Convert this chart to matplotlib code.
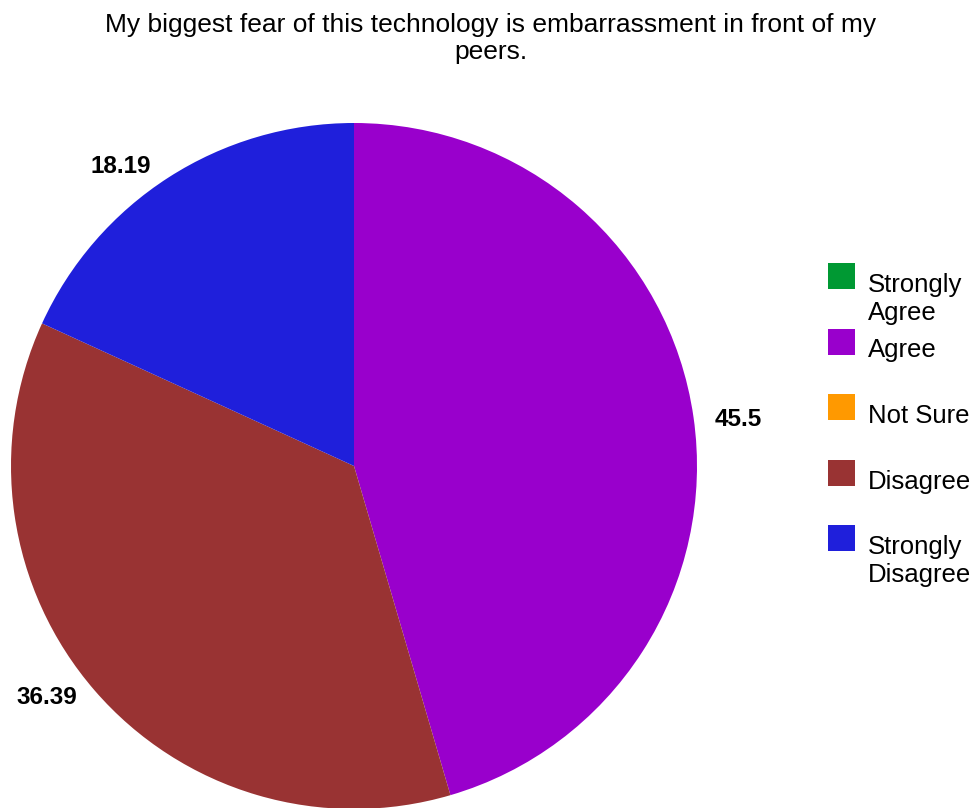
import matplotlib
matplotlib.use('Agg')
import matplotlib.pyplot as plt
from matplotlib.patches import Rectangle

plt.rcParams['font.family'] = ['Liberation Sans', 'DejaVu Sans']

# Survey responses (percent)
categories = ['Strongly\nAgree', 'Agree', 'Not Sure', 'Disagree', 'Strongly\nDisagree']
values = [0, 45.5, 0, 36.39, 18.19]
value_labels = ['', '45.5', '', '36.39', '18.19']
colors = ['#009933', '#9900CC', '#FF9900', '#993333', '#1F1FDB']
title = 'My biggest fear of this technology is embarrassment in front of my\npeers.'

W, H = 979, 808
fig = plt.figure(figsize=(W / 100, H / 100), dpi=100)

fig.text(491 / W, 1 - 13 / H, title, ha='center', va='top', fontsize=19,
         linespacing=1.15)

# pie: centre (354, 466) px, radius 343 px
cx, cy, r = 354, 466, 343
ax = fig.add_axes([(cx - r) / W, 1 - (cy + r) / H, 2 * r / W, 2 * r / H])
wedges, texts = ax.pie(values, colors=colors, startangle=90, counterclock=False,
                       labels=value_labels, wedgeprops=dict(linewidth=0),
                       textprops=dict(fontsize=17.5, fontweight='bold'))
# value labels sit just outside the rim
label_pos = [None, (1.12, 0.137), None, (-0.895, -0.676), (-0.68, 0.872)]
for t, pos in zip(texts, label_pos):
    if pos is not None:
        t.set_position(pos)
    t.set_ha('center')
    t.set_va('center')
ax.set_xlim(-1, 1)
ax.set_ylim(-1, 1)
ax.set_aspect('equal')
ax.axis('off')

# legend drawn by hand: square + wrapped label
sq_x, sq_w, sq_h = 828, 27, 26
top0, step = 263, 65.5
for i, (lab, col) in enumerate(zip(categories, colors)):
    top = top0 + i * step
    fig.patches.append(Rectangle((sq_x / W, 1 - (top + sq_h) / H), sq_w / W, sq_h / H,
                                 transform=fig.transFigure, facecolor=col,
                                 edgecolor='none'))
    fig.text(868 / W, 1 - (top + 10) / H, lab, ha='left', va='top',
             fontsize=18.5, linespacing=1.2)

fig.savefig('out.png', dpi=100, facecolor='white')
